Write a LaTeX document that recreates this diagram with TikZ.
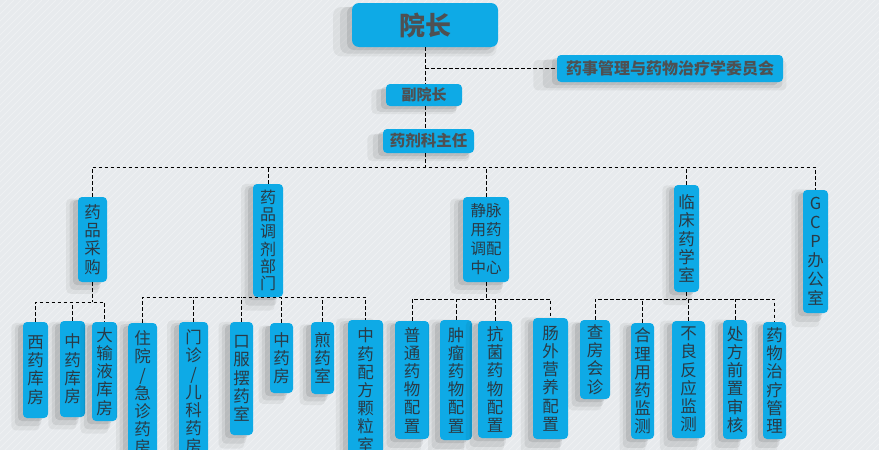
\documentclass[tikz,border=0pt]{standalone}
\usepackage{fontspec}
\newfontfamily\cjk{Noto Sans CJK SC}
\usetikzlibrary{shadows}
\definecolor{boxblue}{RGB}{14,170,230}
\definecolor{bgcol}{RGB}{231,234,237}
\definecolor{toptext}{RGB}{78,80,82}
\definecolor{lowtext}{RGB}{42,58,70}
\tikzset{
  softshadow/.style={
    drop shadow={shadow xshift=-9pt,shadow yshift=-6pt,opacity=.05,fill=black,shadow scale=1.12},
    drop shadow={shadow xshift=-7pt,shadow yshift=-5pt,opacity=.07,fill=black,shadow scale=1.06},
    drop shadow={shadow xshift=-5pt,shadow yshift=-3pt,opacity=.09,fill=black}},
  box/.style={fill=boxblue, rounded corners=4pt, inner sep=0pt, softshadow, text=lowtext, align=center},
  topbox/.style={box, text=toptext},
  vtext/.style={font=\cjk\fontsize{16.5}{18.2}\selectfont},
  conn/.style={draw=black, line width=0.9pt, dash pattern=on 3.5pt off 2.5pt},
}
\begin{document}
\begin{tikzpicture}[x=1pt,y=-1pt]
\useasboundingbox (0,0) rectangle (879,450);
\clip (0,0) rectangle (879,450);
\fill[bgcol] (0,0) rectangle (879,450);
\foreach \i in {0,7,...,1330} \draw[white, opacity=.3, line width=1pt] (\i,0) -- (\i-450,450);

% top
\node[topbox, rounded corners=7pt, minimum width=146, minimum height=44, font=\cjk\bfseries\fontsize{26}{30}\selectfont] (yz) at (425,25) {院长};
\node[topbox, minimum width=226, minimum height=27, font=\cjk\bfseries\fontsize{16}{18}\selectfont] (wyh) at (670,68.5) {药事管理与药物治疗学委员会};
\node[topbox, minimum width=76, minimum height=22, font=\cjk\bfseries\fontsize{15}{17}\selectfont] (fyz) at (424,95) {副院长};
\node[topbox, minimum width=91, minimum height=24, font=\cjk\bfseries\fontsize{15.5}{17}\selectfont] (zr) at (428.5,141) {药剂科主任};

% level 2
\node[box, vtext, minimum width=29, minimum height=85] (c1) at (92.5,239.5) {药\\品\\采\\购};
\node[box, font=\cjk\fontsize{16}{17.2}\selectfont, minimum width=30, minimum height=113] (c2) at (268,240.5) {药\\品\\调\\剂\\部\\门};
\node[box, font=\cjk\fontsize{15.5}{19}\selectfont, minimum width=46, minimum height=85] (c3) at (486,239.5) {静脉\\用药\\调配\\中心};
\node[box, vtext, minimum width=25, minimum height=107] (c4) at (686.5,238.5) {临\\床\\药\\学\\室};
\node[box, font=\cjk\fontsize{16.5}{19}\selectfont, minimum width=25, minimum height=123] (c5) at (815.5,251.5) {G\\C\\P\\办\\公\\室};

% level 3
\node[box, vtext, minimum width=25, minimum height=96] (d11) at (35.5,370) {西\\药\\库\\房};
\node[box, vtext, minimum width=25, minimum height=96] (d12) at (72.5,369) {中\\药\\库\\房};
\node[box, vtext, minimum width=25, minimum height=99] (d13) at (104.5,371.5) {大\\输\\液\\库\\房};
\node[box, vtext, minimum width=29, minimum height=140] (d21) at (142.5,393) {住\\院\\/\\急\\诊\\药\\房};
\node[box, vtext, minimum width=29, minimum height=140] (d22) at (193.5,392) {门\\诊\\/\\儿\\科\\药\\房};
\node[box, vtext, minimum width=23, minimum height=113] (d23) at (241.5,378.5) {口\\服\\摆\\药\\室};
\node[box, vtext, minimum width=23, minimum height=70] (d24) at (281.5,358) {中\\药\\房};
\node[box, vtext, minimum width=23, minimum height=72] (d25) at (322.5,358) {煎\\药\\室};
\node[box, vtext, minimum width=35, minimum height=140] (d26) at (365.5,390) {中\\药\\配\\方\\颗\\粒\\室};
\node[box, vtext, minimum width=34, minimum height=118] (d31) at (412,380) {普\\通\\药\\物\\配\\置};
\node[box, vtext, minimum width=32, minimum height=120] (d32) at (456,380) {肿\\瘤\\药\\物\\配\\置};
\node[box, vtext, minimum width=34, minimum height=117] (d33) at (495,379.5) {抗\\菌\\药\\物\\配\\置};
\node[box, vtext, minimum width=35, minimum height=121] (d34) at (550.5,378.5) {肠\\外\\营\\养\\配\\置};
\node[box, vtext, minimum width=30, minimum height=79] (d41) at (595,359.5) {查\\房\\会\\诊};
\node[box, vtext, minimum width=23, minimum height=116] (d42) at (642.5,381) {合\\理\\用\\药\\监\\测};
\node[box, vtext, minimum width=33, minimum height=117] (d43) at (688.5,379.5) {不\\良\\反\\应\\监\\测};
\node[box, vtext, minimum width=24, minimum height=119] (d44) at (735,379.5) {处\\方\\前\\置\\审\\核};
\node[box, vtext, minimum width=23, minimum height=117] (d45) at (774.5,380.5) {药\\物\\治\\疗\\管\\理};

% bus coordinates
\coordinate (b2) at (0,167);
\coordinate (g1) at (0,302);
\coordinate (g2) at (0,297);
\coordinate (g3) at (0,299);
\coordinate (g4) at (0,299);

% connectors
\draw[conn] (yz.south) -- (yz.south |- fyz.north);
\draw[conn] (yz.south |- wyh.west) -- (wyh.west);
\draw[conn] (yz.south |- fyz.south) -- (yz.south |- zr.north);
\draw[conn] (yz.south |- zr.south) -- (yz.south |- b2);
\draw[conn] (c1.north) -- (c1.north |- b2) -- (c5.north |- b2) -- (c5.north);
\foreach \n in {c2,c3,c4} \draw[conn] (\n.north) -- (\n.north |- b2);

\draw[conn] (c1.south) -- (c1.south |- g1);
\draw[conn] (d11.north) -- (d11.north |- g1) -- (d13.north |- g1) -- (d13.north);
\draw[conn] (d12.north) -- (d12.north |- g1);

\draw[conn] (d21.north) -- (d21.north |- g2) -- (d26.north |- g2) -- (d26.north);
\foreach \n in {d22,d23,d24,d25} \draw[conn] (\n.north) -- (\n.north |- g2);

\draw[conn] (c3.south) -- (c3.south |- g3);
\draw[conn] (d31.north) -- (d31.north |- g3) -- (d34.north |- g3) -- (d34.north);
\foreach \n in {d32,d33} \draw[conn] (\n.north) -- (\n.north |- g3);

\draw[conn] (c4.south) -- (c4.south |- g4);
\draw[conn] (d41.north) -- (d41.north |- g4) -- (d45.north |- g4) -- (d45.north);
\foreach \n in {d42,d43,d44} \draw[conn] (\n.north) -- (\n.north |- g4);
\end{tikzpicture}
\end{document}
